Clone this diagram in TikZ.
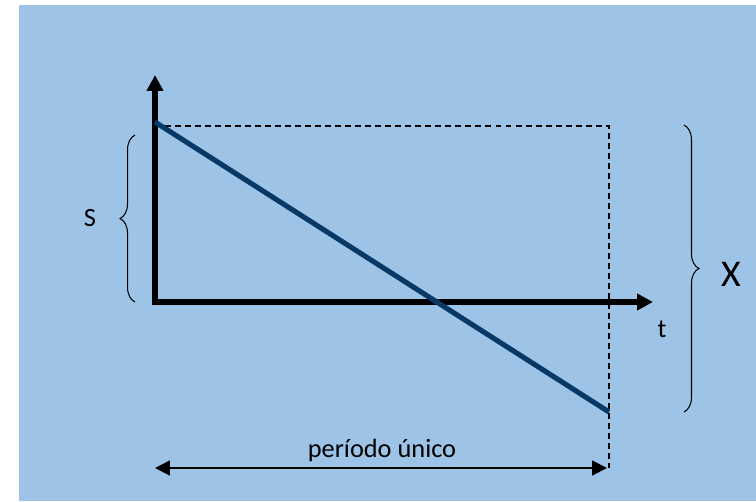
\documentclass[tikz,border=0pt]{standalone}
\usepackage{fontspec}
\setmainfont{Carlito}
\usetikzlibrary{arrows.meta,decorations.pathreplacing}
\definecolor{bgblue}{RGB}{157,195,230}
\definecolor{linenavy}{RGB}{8,56,102}

\begin{document}
\begin{tikzpicture}[x=0.02cm, y=-0.02cm, thick,
  axis/.style={line width=2.9pt, line join=miter, {Triangle[length=9pt,width=9pt]}-{Triangle[length=9pt,width=9pt]}},
  guide/.style={line width=0.8pt, dash pattern=on 3.4pt off 2.3pt},
  bracket/.style={line width=0.6pt, decorate, decoration={brace, amplitude=8.5pt}},
  label/.style={font=\fontsize{15}{18}\selectfont, inner sep=0pt}]
  \useasboundingbox (0,0) rectangle (756,501);
  \fill[bgblue] (19,5) rectangle (756,501);

  \coordinate (O) at (155, 302);
  \coordinate (Ytop) at (155, 75);
  \coordinate (Xend) at (653, 302);
  \coordinate (A) at (155, 122);
  \coordinate (B) at (609, 412);
  \coordinate (C) at (609, 126);
  \coordinate (D) at (609, 468);
  \coordinate (P) at (155, 468);
  \coordinate (Q) at (607, 468);

  \draw[guide] (155, 126) -- (C) -- (D);
  \draw[axis] (Ytop) -- (O) -- (Xend);
  \draw[linenavy, line width=2.9pt] (A) -- (B);
  \draw[line width=1.1pt, {Triangle[length=8.5pt,width=8.5pt]}-{Triangle[length=8.5pt,width=8.5pt]}] (P) -- (Q);

  \draw[bracket] (135, 302) -- (135, 135);
  \draw[bracket] (684, 125) -- (684, 412);

  \node[label] (s) at (90, 218) {S};
  \node[label] (t) at (662, 329) {t};
  \node[label, font=\fontsize{21.5}{24}\selectfont] (x) at (731, 274) {X};
  \node[label, anchor=base] (periodo) at (382, 457) {período único};
\end{tikzpicture}
\end{document}
